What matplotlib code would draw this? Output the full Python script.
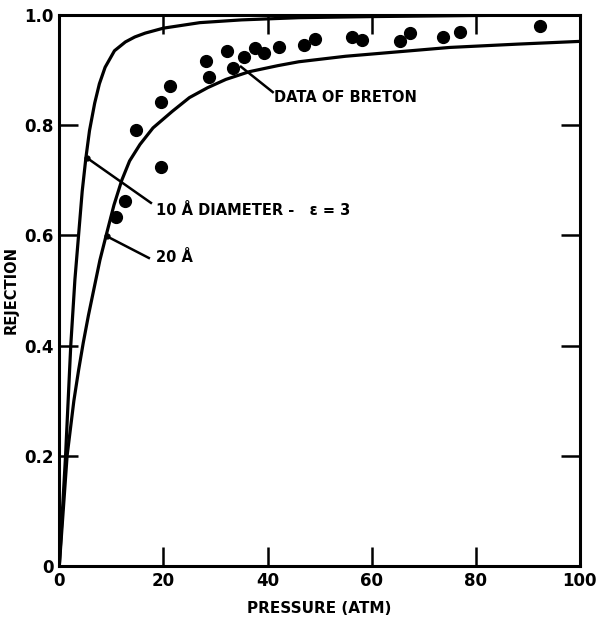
import numpy as np
from matplotlib import pyplot as plt

# data of Breton (pressure atm, rejection)
breton_p = [10.8, 12.7, 14.8, 19.6, 19.6, 21.2, 28.1, 28.8, 32.3, 33.3, 35.4,
            37.5, 39.4, 42.3, 47.0, 49.1, 56.2, 58.1, 65.5, 67.3, 73.8, 76.9, 92.4]
breton_r = [0.633, 0.662, 0.791, 0.724, 0.842, 0.871, 0.917, 0.887, 0.935, 0.904, 0.924,
            0.940, 0.931, 0.942, 0.946, 0.956, 0.960, 0.955, 0.953, 0.967, 0.960, 0.969, 0.980]

# theory, 10 A pore diameter
p10 = [0, 1.2, 2.2, 3.0, 3.7, 4.4, 5.1, 5.8, 6.8, 7.7, 8.8, 10.6, 12.7, 14.5, 16.5,
       20, 27, 35, 46, 60, 80, 100]
r10 = [0, 0.2, 0.4, 0.52, 0.6, 0.68, 0.74, 0.79, 0.84, 0.875, 0.905, 0.935, 0.951, 0.96,
       0.967, 0.976, 0.986, 0.991, 0.995, 0.997, 0.999, 1.0]

# theory, 20 A pore diameter
p20 = [0, 1.5, 2.8, 3.7, 4.6, 5.6, 6.7, 7.8, 9.0, 10.5, 12, 13.5, 15.5, 18, 21.7, 25,
       28.5, 32, 36.5, 42, 46, 55, 65, 75, 88, 100]
r20 = [0, 0.2, 0.3, 0.355, 0.405, 0.455, 0.505, 0.555, 0.6, 0.655, 0.7, 0.735, 0.765,
       0.795, 0.825, 0.85, 0.868, 0.883, 0.897, 0.908, 0.915, 0.925, 0.933, 0.941,
       0.947, 0.952]

xticks = [0, 20, 40, 60, 80, 100]
yticks = [0, 0.2, 0.4, 0.6, 0.8, 1.0]
ylabels = ['0', '0.2', '0.4', '0.6', '0.8', '1.0']

fig = plt.figure(figsize=(5.99, 6.22), dpi=100)
ax = fig.add_axes([0.099, 0.090, 0.869, 0.886])

ax.plot(p10, r10, color='black', lw=2.3, solid_capstyle='round', solid_joinstyle='round')
ax.plot(p20, r20, color='black', lw=2.3, solid_capstyle='round', solid_joinstyle='round')
ax.plot(breton_p, breton_r, 'o', color='black', ms=8.5)

ax.set_xlim(0, 100)
ax.set_ylim(0, 1.0)
ax.set_xticks(xticks)
ax.set_xticklabels([str(t) for t in xticks])
ax.set_yticks(yticks)
ax.set_yticklabels(ylabels)
ax.tick_params(direction='in', length=14, width=1.8, top=True, right=True,
               labelsize=12, pad=4)
for lab in ax.get_xticklabels() + ax.get_yticklabels():
    lab.set_fontweight('bold')
for s in ax.spines.values():
    s.set_linewidth(2.2)

ax.set_xlabel('PRESSURE (ATM)', fontsize=11, fontweight='bold', labelpad=8)
ax.set_ylabel('REJECTION', fontsize=10.5, fontweight='bold', labelpad=4)

# pointer lines (from curve / data point out to the label)
ax.plot([34.9, 41.0], [0.906, 0.860], color='black', lw=1.8)
ax.plot([5.4, 17.6], [0.74, 0.659], color='black', lw=1.8)
ax.plot([9.2, 17.2], [0.598, 0.559], color='black', lw=1.8)
ax.plot([5.4, 9.2], [0.74, 0.598], 'o', color='black', ms=3.5)

tkw = dict(fontsize=10.5, fontweight='bold', va='center', ha='left')
ax.text(41.2, 0.851, 'DATA OF BRETON', **tkw)
ax.text(18.6, 0.646, '10 Å DIAMETER -   ε = 3', **tkw)
ax.text(18.6, 0.559, '20 Å', **tkw)

fig.savefig('out.png', dpi=100)
